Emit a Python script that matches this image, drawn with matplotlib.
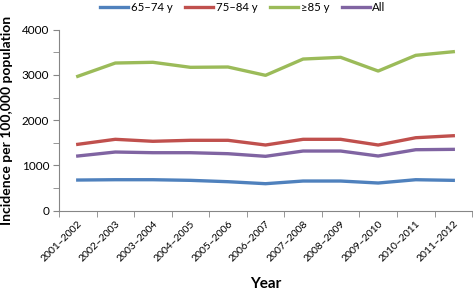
import numpy as np
import matplotlib.pyplot as plt
from matplotlib.ticker import MultipleLocator, FixedLocator

# data
years = ["2001\u20132002", "2002\u20132003", "2003\u20132004", "2004\u20132005",
         "2005\u20132006", "2006\u20132007", "2007\u20132008", "2008\u20132009",
         "2009\u20132010", "2010\u20132011", "2011\u20132012"]
age_65_74 = [678, 685, 685, 671, 641, 597, 656, 656, 612, 685, 671]
age_75_84 = [1467, 1578, 1534, 1556, 1556, 1452, 1578, 1578, 1452, 1613, 1657]
age_85_up = [2970, 3264, 3280, 3169, 3176, 2992, 3352, 3390, 3087, 3434, 3514]
age_all = [1209, 1297, 1282, 1282, 1260, 1202, 1319, 1319, 1209, 1348, 1356]

plt.rcParams['font.family'] = ['Lato', 'DejaVu Sans']

fig = plt.figure(figsize=(4.73, 2.92), dpi=100)
ax = fig.add_axes([0.1247, 0.2784, 0.8733, 0.6198])

x = np.arange(len(years))
lw = 2.4
ax.plot(x, age_65_74, color='#4F81BD', lw=lw, label='65\u201374 y')
ax.plot(x, age_75_84, color='#C0504D', lw=lw, label='75\u201384 y')
ax.plot(x, age_85_up, color='#9BBB59', lw=lw, label='\u226585 y')
ax.plot(x, age_all, color='#8064A2', lw=lw, label='All')

ax.set_xlim(-0.5, len(years) - 0.5)
ax.set_ylim(0, 4000)

for s in ['top', 'right']:
    ax.spines[s].set_visible(False)
for s in ['left', 'bottom']:
    ax.spines[s].set_color('#868686')
    ax.spines[s].set_linewidth(0.8)

ax.yaxis.set_major_locator(MultipleLocator(1000))
ax.yaxis.set_minor_locator(MultipleLocator(500))
ax.tick_params(axis='y', which='both', length=4, color='#868686', labelsize=8.5, pad=3)

ax.set_xticks(x)
ax.set_xticklabels(years, rotation=45, ha='right', rotation_mode='anchor', fontsize=7.5)
ax.xaxis.set_minor_locator(FixedLocator(np.arange(-0.5, len(years), 1)))
ax.tick_params(axis='x', which='major', length=0, pad=6)
ax.tick_params(axis='x', which='minor', length=4, color='#868686')

ax.set_ylabel('Incidence per 100,000 population', fontsize=10, fontweight='bold', labelpad=6)
ax.set_xlabel('Year', fontsize=11, fontweight='bold', labelpad=10)

ax.legend(loc='upper center', bbox_to_anchor=(0.445, 1.155), ncol=4, frameon=False,
          fontsize=8.2, handlelength=2.5, handletextpad=0.2, columnspacing=1.1,
          borderaxespad=0, borderpad=0)

fig.savefig('out.png', dpi=100)
